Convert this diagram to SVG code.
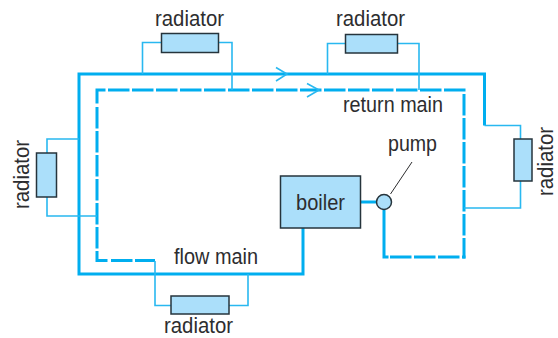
<svg xmlns="http://www.w3.org/2000/svg" width="558" height="338" viewBox="0 0 558 338">
<style>
text{font-family:"Liberation Sans",Arial,sans-serif;font-size:22px;fill:#2d2d2f}
.box{fill:#abdffa;stroke:#26343c;stroke-width:1.5}
.main{fill:none;stroke:#00aeef;stroke-width:3}
.dash{fill:none;stroke:#00aeef;stroke-width:3;stroke-dasharray:21.500 2.500}
.thin{fill:none;stroke:#29b8f0;stroke-width:1.6}
</style>
<rect width="558" height="338" fill="#fff"/>
<g id="connectors">
<path class="main" d="M303 228V274H79V74H484.500V125.500"/>
<path class="main" d="M105.500 90H97V103.500"/>
<path class="dash" d="M108 90H466"/>
<path class="dash" d="M97 107V251"/>
<path class="main" d="M97 251V260.500H107.500"/>
<path class="dash" d="M111 260.500H155"/>
<path class="dash" d="M464 94V258.500"/>
<path class="dash" d="M390 257H460"/>
<path class="main" d="M462 257H465.500"/>
<path class="main" d="M384 209V257H388.500"/>
<path class="main" d="M360 202H377"/>
<path class="thin" d="M161 42.500H142.500V74M219 42.500H232V90"/>
<path class="thin" d="M345 43.500H327.500V74M398 43.500H419V90"/>
<path class="thin" d="M47 153V139H79M47 197V216H97"/>
<path class="thin" d="M171 305.500H155V261M229 305.500H248V274"/>
<path class="thin" d="M484.500 125.500H520.500V139M520.500 181V208H464"/>
<path class="thin" d="M276 67.500L287 74L276 81M307 83.500L319 90L307 97"/>
<path d="M412 162L390.500 194" fill="none" stroke="#2d2d2f" stroke-width="1"/>
</g>
<g id="radiator-top-left"><rect class="box" x="161.500" y="33.500" width="57" height="19"/><text x="155" y="26" textLength="69" lengthAdjust="spacingAndGlyphs">radiator</text></g>
<g id="radiator-top-right"><rect class="box" x="345.500" y="34.500" width="52" height="18.500"/><text x="336" y="26" textLength="69" lengthAdjust="spacingAndGlyphs">radiator</text></g>
<g id="radiator-left"><rect class="box" x="36.500" y="153" width="20" height="44"/><text transform="translate(29 209) rotate(-90)" textLength="69" lengthAdjust="spacingAndGlyphs">radiator</text></g>
<g id="radiator-bottom"><rect class="box" x="171" y="296" width="58" height="18"/><text x="164" y="333" textLength="69" lengthAdjust="spacingAndGlyphs">radiator</text></g>
<g id="radiator-right"><rect class="box" x="514" y="139" width="18" height="42"/><text transform="translate(553 196) rotate(-90)" textLength="69" lengthAdjust="spacingAndGlyphs">radiator</text></g>
<g id="boiler"><rect class="box" x="280.500" y="176" width="80" height="52"/><text x="296" y="210" textLength="49" lengthAdjust="spacingAndGlyphs">boiler</text></g>
<g id="pump"><circle class="box" cx="384" cy="202" r="7.500"/><text x="388" y="151" textLength="49" lengthAdjust="spacingAndGlyphs">pump</text></g>
<g id="labels"><text x="343" y="112" textLength="100" lengthAdjust="spacingAndGlyphs">return main</text><text x="174" y="264" textLength="84" lengthAdjust="spacingAndGlyphs">flow main</text></g>
</svg>
